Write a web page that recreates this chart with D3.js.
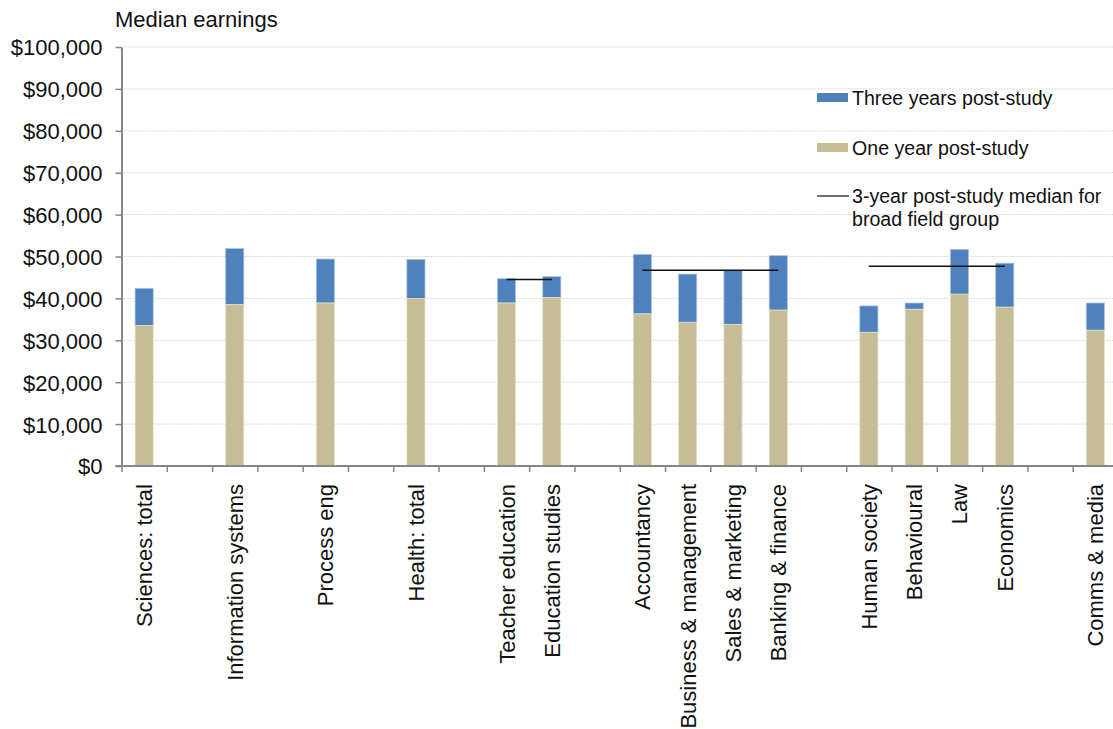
<!DOCTYPE html>
<html>
<head>
<meta charset="utf-8">
<script src="https://cdn.jsdelivr.net/npm/d3@7"></script>
<style>
  body { margin: 0; background: #fff; overflow: hidden; }
  svg { font-family: "Liberation Sans", Arial, sans-serif; }
</style>
</head>
<body>
<svg id="chart" width="1113" height="729"></svg>
<script>
// slots: empty strings are the gaps between field groups
const categories = ["Sciences: total", "", "Information systems", "", "Process eng", "", "Health: total", "",
	"Teacher education", "Education studies", "",
	"Accountancy", "Business & management", "Sales & marketing", "Banking & finance", "",
	"Human society", "Behavioural", "Law", "Economics", "", "Comms & media"];

const oneYear = [33500, null, 38500, null, 38900, null, 40000, null,
	38900, 40200, null,
	36300, 34300, 33800, 37200, null,
	31900, 37400, 41000, 37900, null, 32400];

const threeYears = [42400, null, 51900, null, 49400, null, 49300, null,
	44700, 45200, null,
	50500, 45800, 46700, 50200, null,
	38200, 38900, 51700, 48400, null, 38900];

// broad field group medians (from first to last slot index of the group)
const groupStart = [8, 11, 16];
const groupEnd = [9, 14, 19];
const groupMedian = [44500, 46700, 47700];

const yTicks = [0, 10000, 20000, 30000, 40000, 50000, 60000, 70000, 80000, 90000, 100000];

const colBlue = "#4F81BD";
const colTan = "#C4BD97";

const svg = d3.select("#chart");
const plotLeft = 121.5, plotRight = 1118, plotTop = 47, plotBottom = 466;
const axisFont = "22px", legendFont = "19.6px";

const keys = categories.map((c, i) => "s" + i);
const x = d3.scaleBand().domain(keys).range([plotLeft, plotRight]).paddingInner(0.6).paddingOuter(0.3);
const xEdge = d3.scaleLinear().domain([0, categories.length]).range([plotLeft, plotRight]);
const y = d3.scaleLinear().domain([0, 100000]).range([plotBottom, plotTop]);

//gridlines
svg.append("g").selectAll("line")
	.data(yTicks.filter(d => d > 0))
	.enter().append("line")
	.attr("x1", plotLeft).attr("x2", plotRight)
	.attr("y1", d => y(d)).attr("y2", d => y(d))
	.attr("stroke", "#d9d9d9")
	.attr("stroke-width", 1)
	.attr("stroke-dasharray", "2,1");

//y axis
const yAxis = svg.append("g")
	.attr("transform", "translate(" + plotLeft + ",0)")
	.call(d3.axisLeft(y).tickValues(yTicks).tickSize(6).tickSizeOuter(0)
		.tickFormat(d => "$" + d3.format(",")(d)));
yAxis.select(".domain").attr("stroke", "#868686").attr("stroke-width", 2);
yAxis.selectAll(".tick line").attr("stroke", "#868686").attr("stroke-width", 1.5);
yAxis.selectAll("text").attr("font-size", axisFont).attr("fill", "#111").attr("x", -19).attr("dy", "0.36em");

//bars
const data = categories.map((c, i) => ({key: keys[i], name: c, one: oneYear[i], three: threeYears[i]}))
	.filter(d => d.one != null);

svg.append("g").selectAll("rect.three")
	.data(data)
	.enter().append("rect")
	.attr("x", d => x(d.key))
	.attr("width", x.bandwidth())
	.attr("y", d => y(d.three))
	.attr("height", d => y(d.one) - y(d.three))
	.attr("fill", colBlue)
	.attr("stroke", "#a9c1e0").attr("stroke-width", 0.8);

svg.append("g").selectAll("rect.one")
	.data(data)
	.enter().append("rect")
	.attr("x", d => x(d.key))
	.attr("width", x.bandwidth())
	.attr("y", d => y(d.one))
	.attr("height", d => y(0) - y(d.one))
	.attr("fill", colTan)
	.attr("stroke", "#e6e1cc").attr("stroke-width", 0.8);

//median lines
svg.append("g").selectAll("line")
	.data(groupMedian)
	.enter().append("line")
	.attr("x1", (d, i) => x(keys[groupStart[i]]) + x.bandwidth() / 2)
	.attr("x2", (d, i) => x(keys[groupEnd[i]]) + x.bandwidth() / 2)
	.attr("y1", d => y(d)).attr("y2", d => y(d))
	.attr("stroke", "#111")
	.attr("stroke-width", 1.5);

//x axis
const xAxis = svg.append("g")
	.attr("transform", "translate(0," + plotBottom + ")")
	.call(d3.axisBottom(xEdge).tickValues(d3.range(0, categories.length)).tickSize(6).tickSizeOuter(0).tickFormat(""));
xAxis.select(".domain").attr("stroke", "#868686").attr("stroke-width", 2)
	.attr("d", "M" + (plotLeft - 6) + ",0H" + plotRight);
xAxis.selectAll(".tick line").attr("stroke", "#868686").attr("stroke-width", 1.5);

//category labels
svg.append("g").selectAll("text")
	.data(data)
	.enter().append("text")
	.attr("transform", d => "translate(" + (x(d.key) + x.bandwidth() / 2 + 8) + "," + 484 + ") rotate(-90)")
	.attr("text-anchor", "end")
	.attr("font-size", axisFont)
	.attr("fill", "#111")
	.text(d => d.name);

//y title
svg.append("text")
	.attr("x", 115).attr("y", 27)
	.attr("font-size", axisFont)
	.attr("fill", "#111")
	.text("Median earnings");

//legend
const legend = svg.append("g");
legend.append("rect").attr("x", 817).attr("y", 93).attr("width", 31).attr("height", 9).attr("fill", colBlue);
legend.append("text").attr("x", 852).attr("y", 105).attr("font-size", legendFont).attr("fill", "#111")
	.text("Three years post-study");
legend.append("rect").attr("x", 817).attr("y", 143).attr("width", 31).attr("height", 9).attr("fill", colTan);
legend.append("text").attr("x", 852).attr("y", 155).attr("font-size", legendFont).attr("fill", "#111")
	.text("One year post-study");
legend.append("line").attr("x1", 817).attr("x2", 849).attr("y1", 196).attr("y2", 196)
	.attr("stroke", "#111").attr("stroke-width", 1.2);
legend.append("text").attr("x", 852).attr("y", 203).attr("font-size", legendFont).attr("fill", "#111")
	.text("3-year post-study median for");
legend.append("text").attr("x", 852).attr("y", 226).attr("font-size", legendFont).attr("fill", "#111")
	.text("broad field group");
</script>
</body>
</html>
